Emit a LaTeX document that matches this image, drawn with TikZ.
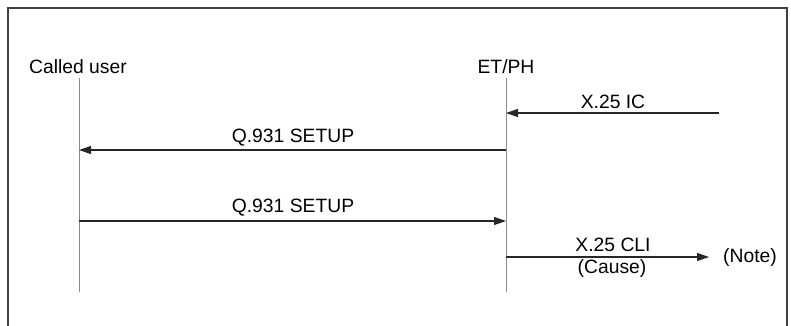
\documentclass[tikz,border=0pt]{standalone}
\usepackage{fontspec}
\setmainfont{Liberation Sans}
\usetikzlibrary{arrows.meta}
\begin{document}
\begin{tikzpicture}[x=1pt,y=-1pt,
  lbl/.style={font=\fontsize{19.3}{21}\selectfont, inner sep=0pt},
  life/.style={draw=black!45, line width=1pt},
  msg/.style={draw=black!85, line width=1.1pt, -{Triangle[length=12pt,width=8pt]}},
  frame/.style={draw=black!75, line width=1.3pt}]
\useasboundingbox (0,0) rectangle (791,325);
\draw[frame] (8,326) -- (8,8) -- (787,8) -- (787,326);
% headers
\node[lbl] (cu) at (78,67) {Called user};
\node[lbl] (et) at (506,67) {ET/PH};
% lifelines
\coordinate (cuT) at (79,78);
\coordinate (cuB) at (79,292);
\coordinate (etT) at (506,78);
\coordinate (etB) at (506,292);
\draw[life] (cuT) -- (cuB);
\draw[life] (etT) -- (etB);
% message endpoints
\coordinate (icS) at (719,113);
\coordinate (icE) at (506,113);
\coordinate (s1S) at (506,150);
\coordinate (s1E) at (79,150);
\coordinate (s2S) at (79,221);
\coordinate (s2E) at (506,221);
\coordinate (clS) at (506,257);
\coordinate (clE) at (709,257);
\draw[msg] (icS) -- (icE);
\draw[msg] (s1S) -- (s1E);
\draw[msg] (s2S) -- (s2E);
\draw[msg] (clS) -- (clE);
% labels
\node[lbl] (icL) at (613,102) {X.25 IC};
\node[lbl] (s1L) at (293,138) {Q.931 SETUP};
\node[lbl] (s2L) at (293,208) {Q.931 SETUP};
\node[lbl] (clL) at (613,245) {X.25 CLI};
\node[lbl] (caL) at (612,268) {(Cause)};
\node[lbl] (note) at (750,257) {(Note)};
\end{tikzpicture}
\end{document}
